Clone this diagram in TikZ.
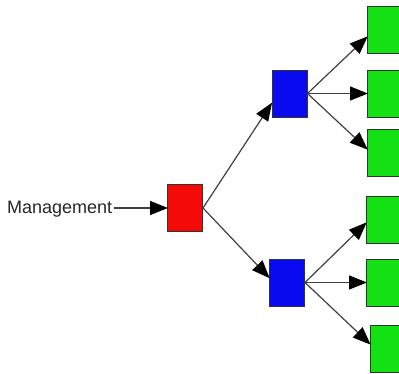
\documentclass[tikz,border=0pt]{standalone}
\usepackage{fontspec}
\setmainfont{Liberation Sans}
\usetikzlibrary{arrows.meta,calc}
\definecolor{gbox}{RGB}{20,225,20}
\definecolor{bbox}{RGB}{10,10,240}
\definecolor{rbox}{RGB}{245,10,10}
\tikzset{
  box/.style={draw=black!80, line width=1pt, inner sep=0pt, minimum width=35pt, minimum height=47pt},
  conn/.style={draw=black!75, line width=1.2pt, -{Triangle[length=18pt,width=14pt,fill=black,color=black]}, shorten >=-1pt},
}
\begin{document}
\begin{tikzpicture}[x=1pt,y=-1pt]
\useasboundingbox (0,0) rectangle (399,373);
\node[box, fill=rbox] (r) at (185,208) {};
\node[box, fill=bbox] (b1) at (289.5,93.5) {};
\node[box, fill=bbox] (b2) at (287,282.5) {};
\node[box, fill=gbox, anchor=north west] (g1) at (367,6) {};
\node[box, fill=gbox, anchor=north west] (g2) at (367,70) {};
\node[box, fill=gbox, anchor=north west] (g3) at (367,129) {};
\node[box, fill=gbox, anchor=north west] (g4) at (366,196) {};
\node[box, fill=gbox, anchor=north west] (g5) at (366,259) {};
\node[box, fill=gbox, anchor=north west] (g6) at (370,325) {};
\node[anchor=west, font=\fontsize{18}{18}\selectfont, inner sep=0pt, text=black!85] (m) at (7,209) {Management};
\draw[conn] ([xshift=2pt]m.east |- r.west) -- (r.west);
\draw[conn] (r.east) -- ($(b1.west)+(0,10)$);
\draw[conn] (r.east) -- ($(b2.west)+(0,-5)$);
\draw[conn] (b1.east) -- ($(g1.west)+(0,7)$);
\draw[conn] (b1.east) -- (b1.east -| g2.west);
\draw[conn] (b1.east) -- ($(g3.west)+(0,-4)$);
\draw[conn] (b2.east) -- ($(g4.west)+(0,3)$);
\draw[conn] (b2.east) -- (b2.east -| g5.west);
\draw[conn] (b2.east) -- ($(g6.west)+(0,-5)$);
\end{tikzpicture}
\end{document}
